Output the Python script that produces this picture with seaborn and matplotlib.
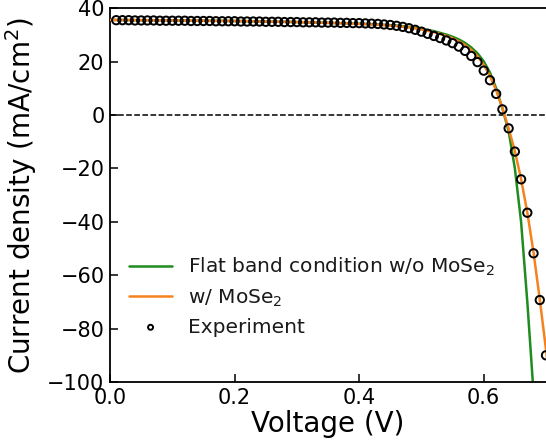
import matplotlib
matplotlib.use("Agg")
import matplotlib.pyplot as plt
import seaborn as sns
import pandas as pd

# Simulated J-V curve, flat band condition without MoSe2 interlayer
v_flat = [0.00, 0.05, 0.10, 0.15, 0.20, 0.25, 0.30, 0.35, 0.40, 0.43, 0.46,
          0.48, 0.50, 0.52, 0.54, 0.55, 0.56, 0.57, 0.58, 0.59, 0.60, 0.61,
          0.62, 0.63, 0.64, 0.65, 0.66, 0.67, 0.68]
j_flat = [35.6, 35.5, 35.4, 35.3, 35.2, 35.0, 34.8, 34.5, 34.2, 33.9, 33.5,
          33.0, 32.3, 31.4, 30.1, 29.3, 28.3, 27.0, 25.3, 23.1, 20.1, 15.9,
          10.0, 2.4, -6.0, -20.0, -40.0, -70.0, -104.0]

# Simulated J-V curve with MoSe2 interlayer
v_mose2 = [0.00, 0.05, 0.10, 0.15, 0.20, 0.25, 0.30, 0.35, 0.40, 0.43, 0.46,
           0.48, 0.50, 0.52, 0.54, 0.55, 0.56, 0.57, 0.58, 0.59, 0.60, 0.61,
           0.62, 0.63, 0.64, 0.65, 0.66, 0.67, 0.68, 0.69, 0.70, 0.71]
j_mose2 = [35.6, 35.5, 35.4, 35.3, 35.2, 35.0, 34.8, 34.5, 34.1, 33.8, 33.3,
           32.8, 32.0, 31.0, 29.6, 28.7, 27.6, 26.2, 24.4, 22.0, 18.8, 14.6,
           9.2, 2.6, -5.0, -13.5, -24.0, -36.5, -51.5, -69.0, -88.0, -108.0]

# Measured J-V data (0.01 V steps)
v_exp = [round(0.01 * k, 2) for k in range(1, 71)]
j_exp = [35.5, 35.5, 35.5, 35.4, 35.4, 35.4, 35.4, 35.3, 35.3, 35.3,
         35.3, 35.3, 35.2, 35.2, 35.2, 35.2, 35.1, 35.1, 35.1, 35.1,
         35.0, 35.0, 35.0, 35.0, 34.9, 34.9, 34.9, 34.8, 34.8, 34.8,
         34.7, 34.7, 34.7, 34.6, 34.6, 34.6, 34.5, 34.5, 34.4, 34.4,
         34.3, 34.2, 34.1, 33.9, 33.7, 33.4, 33.0, 32.5, 31.9, 31.2,
         30.4, 29.6, 28.8, 27.9, 26.9, 25.6, 24.0, 22.1, 19.8, 16.6,
         13.0, 7.9, 2.1, -5.0, -13.7, -24.1, -36.6, -51.8, -69.3, -90.0]

xticks = [0.0, 0.2, 0.4, 0.6]
yticks = [40, 20, 0, -20, -40, -60, -80, -100]

sns.set_theme(style="ticks")
plt.rcParams["font.family"] = ["DejaVu Sans"]
plt.rcParams["mathtext.fontset"] = "dejavusans"
for key in ["text.color", "axes.labelcolor", "xtick.color", "ytick.color",
            "axes.edgecolor"]:
    plt.rcParams[key] = "black"

fig = plt.figure(figsize=(5.46, 4.44), dpi=100)
ax = fig.add_axes([0.2015, 0.1396, 0.7985, 0.842])

ax.axhline(0, color="black", linestyle="--", linewidth=1.1, zorder=1)

df_flat = pd.DataFrame({"V": v_flat, "J": j_flat})
df_mose2 = pd.DataFrame({"V": v_mose2, "J": j_mose2})
df_exp = pd.DataFrame({"V": v_exp, "J": j_exp})

sns.lineplot(data=df_flat, x="V", y="J", color="#1e8c1e", linewidth=1.8,
             label="Flat band condition w/o MoSe$_2$", ax=ax, zorder=2)
sns.lineplot(data=df_mose2, x="V", y="J", color="#f5821f", linewidth=1.8,
             label="w/ MoSe$_2$", ax=ax, zorder=3)
sns.scatterplot(data=df_exp, x="V", y="J", marker="o", s=36,
                facecolor="none", edgecolor="black", linewidth=1.4,
                label="Experiment", ax=ax, zorder=4)

ax.set_xlim(0, 0.7)
ax.set_ylim(-100, 40)
ax.set_xticks(xticks)
ax.set_yticks(yticks)
ax.tick_params(direction="in", length=6, width=1.1, labelsize=15, pad=4,
               colors="black")
for side in ["left", "bottom", "top"]:
    ax.spines[side].set_visible(True)
    ax.spines[side].set_color("black")
    ax.spines[side].set_linewidth(1.3)
ax.spines["right"].set_visible(False)

ax.set_xlabel("Voltage (V)", fontsize=20, labelpad=2)
ax.set_ylabel("Current density (mA/cm$^2$)", fontsize=20, labelpad=6)

leg = ax.legend(loc="lower left", bbox_to_anchor=(0.026, 0.1),
                borderaxespad=0, frameon=False, fontsize=14.5,
                handlelength=2.1, handletextpad=0.8, labelspacing=0.45,
                markerscale=0.6)
for txt in leg.get_texts():
    txt.set_color("#1a1a1a")

fig.savefig("out.png", dpi=100)
